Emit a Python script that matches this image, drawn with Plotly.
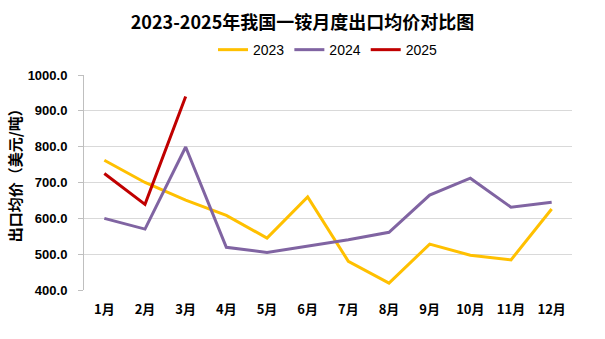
import plotly.graph_objects as go

months = ["1月", "2月", "3月", "4月", "5月", "6月", "7月", "8月", "9月", "10月", "11月", "12月"]
price_2023 = [762, 700, 651, 608, 545, 660, 480, 419, 528, 497, 484, 626]
price_2024 = [600, 570, 799, 519, 505, 523, 540, 561, 665, 712, 631, 645]
price_2025 = [725, 639, 940]

series = [
    ("2023", price_2023, "#ffc000"),
    ("2024", price_2024, "#8064a2"),
    ("2025", price_2025, "#c00000"),
]

font_cjk = "Noto Sans CJK SC"

fig = go.Figure()
for name, values, color in series:
    fig.add_trace(go.Scatter(
        x=months[:len(values)], y=values, name=name, mode="lines",
        line=dict(color=color, width=3),
    ))

# vertical axis caption, placed a little above the plot's mid-height
fig.add_annotation(
    text="<b>出口均价（美元/吨）</b>",
    xref="paper", yref="paper", x=-0.141, y=0.549,
    xanchor="center", yanchor="middle", textangle=-90, showarrow=False,
    font=dict(family=font_cjk, size=15, color="#000000"),
)

fig.update_layout(
    width=605, height=339,
    margin=dict(l=84, r=33, t=75, b=49),
    paper_bgcolor="white", plot_bgcolor="white",
    title=dict(
        text="<b>2023-2025年我国一铵月度出口均价对比图</b>",
        x=0.5, xanchor="center", y=0.932, yanchor="middle",
        font=dict(family=font_cjk, size=18, color="#000000"),
    ),
    legend=dict(
        orientation="h", x=0.5, xanchor="center", y=1.116, yanchor="middle",
        font=dict(family="Liberation Sans", size=14, color="#000000"),
        itemwidth=30, tracegroupgap=0,
    ),
    xaxis=dict(
        categoryorder="array", categoryarray=months,
        range=[-0.5, 11.5],
        showgrid=False, showline=False, ticks="",
        ticklabelstandoff=10,
        tickfont=dict(family=font_cjk, size=13, color="#000000", weight="bold"),
    ),
    yaxis=dict(
        range=[400, 1000], dtick=100, tickformat=".1f",
        showgrid=True, gridcolor="#d9d9d9", gridwidth=1,
        showline=True, linecolor="#bfbfbf", linewidth=1,
        ticks="outside", ticklen=5, tickcolor="#bfbfbf",
        ticklabelstandoff=8,
        zeroline=False,
        tickfont=dict(family="Liberation Sans", size=13, color="#000000", weight="bold"),
    ),
)

fig.write_html("out.html")
